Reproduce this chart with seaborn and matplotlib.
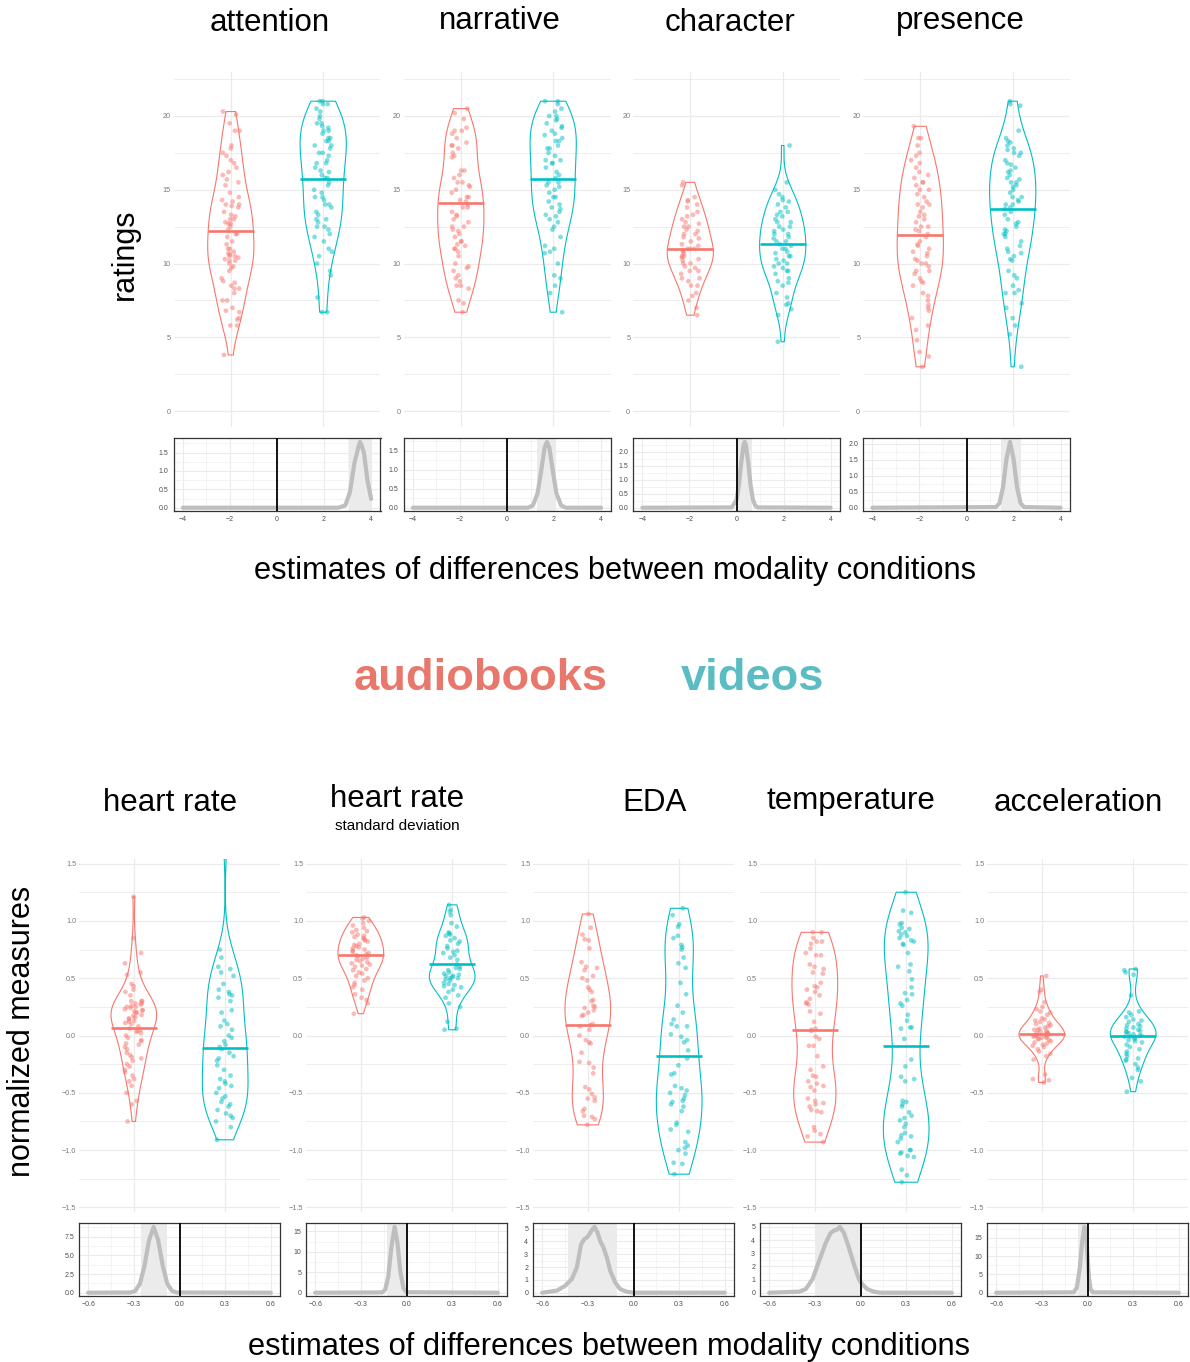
import numpy as np
import pandas as pd
import seaborn as sns
import matplotlib.pyplot as plt
from matplotlib.ticker import AutoMinorLocator, MultipleLocator

sns.set_theme(style="white")
plt.rcParams['font.family'] = ['Liberation Sans', 'DejaVu Sans']

RED = '#F8766D'
BLUE = '#00BFC4'
modalities = ['audiobooks', 'videos']

# ---------------- ratings (top row) ----------------
top_titles = ['attention', 'narrative', 'character', 'presence']

attention_audio = [20.3, 20.1, 19.5, 19.0, 19.0, 18.0, 17.8, 17.5, 17.3, 17.0, 16.8, 16.5, 16.2, 16.0, 15.7,
                   15.5, 15.3, 14.8, 14.5, 14.3, 14.2, 14.0, 14.0, 13.9, 13.8, 13.5, 13.3, 13.2, 13.0, 13.0,
                   12.8, 12.7, 12.7, 12.5, 12.3, 12.0, 12.0, 11.8, 11.5, 11.3, 11.0, 11.0, 10.8, 10.7, 10.6,
                   10.5, 10.5, 10.4, 10.3, 10.2, 10.2, 10.0, 9.8, 9.7, 9.5, 9.0, 8.8, 8.7, 8.5, 8.3, 8.3,
                   8.0, 7.5, 7.5, 7.0, 6.8, 6.7, 6.3, 6.2, 5.8, 5.8, 3.8]
attention_video = [21.0, 21.0, 20.8, 20.8, 20.5, 20.3, 20.0, 19.8, 19.5, 19.5, 19.3, 19.2, 19.0, 19.0, 18.8,
                   18.5, 18.5, 18.3, 18.3, 18.0, 18.0, 17.8, 17.5, 17.5, 17.3, 17.0, 16.8, 16.8, 16.5, 16.3,
                   16.2, 16.0, 15.8, 15.8, 15.5, 15.3, 15.0, 14.8, 14.5, 14.5, 14.3, 14.0, 14.0, 13.8, 13.5,
                   13.3, 13.0, 13.0, 12.8, 12.5, 12.5, 12.3, 12.0, 11.8, 11.5, 11.0, 10.8, 10.5, 10.0, 9.5,
                   9.2, 7.7, 6.7, 6.7]
narrative_audio = [20.5, 20.2, 19.8, 19.2, 19.0, 19.0, 18.8, 18.5, 18.2, 18.0, 18.0, 17.8, 17.5, 17.3, 17.2,
                   16.3, 16.3, 16.0, 15.8, 15.5, 15.5, 15.3, 15.2, 15.0, 14.8, 14.5, 14.5, 14.3, 14.2, 14.0,
                   13.8, 13.8, 13.5, 13.3, 13.2, 13.0, 12.8, 12.5, 12.5, 12.3, 12.2, 12.0, 11.8, 11.5, 11.5,
                   11.3, 11.2, 11.0, 11.0, 10.8, 10.5, 10.0, 9.8, 9.7, 9.5, 9.2, 9.0, 8.8, 8.5, 8.5, 8.3,
                   7.5, 7.3, 6.7]
narrative_video = [21.0, 21.0, 20.8, 20.5, 20.3, 20.0, 20.0, 19.8, 19.7, 19.5, 19.3, 19.2, 19.0, 18.8, 18.7,
                   18.5, 18.3, 18.3, 18.0, 17.8, 17.8, 17.5, 17.3, 17.0, 17.0, 16.8, 16.8, 16.5, 16.2, 16.0,
                   15.8, 15.5, 15.5, 15.3, 15.2, 15.0, 14.8, 14.5, 14.5, 14.2, 14.0, 13.8, 13.7, 13.5, 13.3,
                   13.2, 13.0, 12.8, 12.5, 12.3, 11.8, 11.2, 11.0, 10.8, 10.7, 10.0, 9.2, 9.0, 8.5, 8.0, 6.7]
character_audio = [15.5, 15.3, 14.5, 14.3, 14.2, 14.0, 13.8, 13.5, 13.3, 13.2, 13.0, 12.8, 12.7, 12.5, 12.5,
                   12.3, 12.2, 12.0, 12.0, 11.8, 11.7, 11.5, 11.3, 11.2, 11.0, 11.0, 11.0, 10.9, 10.8, 10.7,
                   10.5, 10.5, 10.4, 10.3, 10.2, 10.0, 10.0, 9.8, 9.7, 9.5, 9.5, 9.3, 9.0, 9.0, 8.8, 8.5,
                   8.5, 8.0, 7.8, 7.5, 7.0, 6.5]
character_video = [18.0, 15.5, 15.0, 14.7, 14.5, 14.3, 14.2, 14.0, 13.8, 13.5, 13.5, 13.3, 13.2, 13.0, 12.8,
                   12.8, 12.5, 12.5, 12.3, 12.2, 12.0, 12.0, 11.8, 11.7, 11.5, 11.5, 11.3, 11.2, 11.0, 11.0,
                   10.8, 10.7, 10.5, 10.5, 10.3, 10.2, 10.0, 10.0, 9.8, 9.7, 9.5, 9.5, 9.3, 9.0, 8.8, 8.7,
                   8.5, 8.0, 7.7, 7.3, 7.2, 6.9, 6.5, 4.7]
presence_audio = [19.3, 18.5, 18.5, 18.0, 17.5, 17.3, 17.0, 16.8, 16.5, 16.2, 16.0, 15.8, 15.5, 15.5, 15.3,
                  15.0, 15.0, 14.7, 14.5, 14.2, 14.0, 14.0, 13.8, 13.5, 13.3, 13.2, 13.0, 12.8, 12.5, 12.5,
                  12.3, 12.2, 12.0, 11.8, 11.5, 11.3, 11.2, 11.0, 10.8, 10.7, 10.5, 10.3, 10.2, 10.0, 10.0,
                  9.8, 9.5, 9.5, 9.3, 9.0, 8.8, 8.7, 8.5, 8.0, 7.8, 7.5, 7.2, 7.0, 6.8, 6.3, 5.8, 5.5, 4.8,
                  4.0, 3.7, 3.0]
presence_video = [21.0, 20.8, 20.7, 19.0, 18.5, 18.3, 18.2, 18.0, 17.8, 17.7, 17.5, 17.5, 17.3, 17.0, 16.8,
                  16.7, 16.5, 16.3, 16.2, 16.0, 15.8, 15.7, 15.5, 15.5, 15.3, 15.2, 15.0, 14.8, 14.5, 14.5,
                  14.3, 14.2, 14.0, 14.0, 13.8, 13.7, 13.5, 13.3, 13.0, 12.8, 12.7, 12.5, 12.3, 12.2, 12.0,
                  12.0, 11.8, 11.5, 11.2, 11.0, 10.8, 10.7, 10.5, 10.3, 10.2, 9.5, 9.2, 9.0, 8.5, 8.2, 8.0,
                  8.0, 7.3, 7.0, 6.3, 5.8, 5.2, 3.0]
top_means = [(12.2, 15.75), (14.1, 15.75), (11.0, 11.3), (11.9, 13.7)]
top_data = [(attention_audio, attention_video), (narrative_audio, narrative_video),
            (character_audio, character_video), (presence_audio, presence_video)]
top_yticks = [0, 5, 10, 15, 20]

# posterior densities of the difference (top row)
top_dens_x = [
    [-4, 2.6, 2.9, 3.1, 3.29, 3.46, 3.53, 3.6, 3.7, 3.84, 4.0],
    [-4, 0.9, 1.1, 1.3, 1.45, 1.6, 1.7, 1.8, 1.95, 2.1, 2.3, 2.5, 4],
    [-4, -0.2, 0.0, 0.1, 0.2, 0.3, 0.35, 0.4, 0.5, 0.6, 0.7, 0.8, 0.9, 4],
    [-4, 1.25, 1.4, 1.55, 1.7, 1.85, 2.0, 2.15, 2.3, 2.45, 4],
]
top_dens_y = [
    [0, 0, 0.06, 0.42, 1.21, 1.65, 1.79, 1.7, 1.48, 0.77, 0.24],
    [0, 0.0, 0.06, 0.38, 0.96, 1.58, 1.73, 1.58, 0.96, 0.38, 0.06, 0.0, 0],
    [0, 0.01, 0.28, 0.8, 1.59, 2.25, 2.35, 2.25, 1.59, 0.8, 0.28, 0.07, 0.01, 0],
    [0, 0.02, 0.14, 0.63, 1.52, 2.05, 1.52, 0.63, 0.14, 0.02, 0],
]
top_ci = [(3.07, 4.0), (1.28, 2.08), (0.04, 0.65), (1.45, 2.3)]
top_dens_yticks = [[0, 0.5, 1.0, 1.5], [0, 0.5, 1.0, 1.5], [0, 0.5, 1.0, 1.5, 2.0], [0, 0.5, 1.0, 1.5, 2.0]]
top_dens_xticks = [-4, -2, 0, 2, 4]

# ---------------- normalized measures (bottom row) ----------------
bottom_titles = ['heart rate', 'heart rate', 'EDA', 'temperature', 'acceleration']

hr_audio = [1.21, 0.85, 0.72, 0.63, 0.55, 0.53, 0.45, 0.43, 0.40, 0.38, 0.35, 0.30, 0.30, 0.30, 0.28, 0.28,
            0.27, 0.26, 0.25, 0.25, 0.24, 0.23, 0.22, 0.22, 0.21, 0.20, 0.20, 0.18, 0.17, 0.16, 0.15, 0.14,
            0.13, 0.12, 0.11, 0.10, 0.08, 0.06, 0.05, 0.04, 0.03, 0.02, 0.00, -0.02, -0.04, -0.05, -0.07,
            -0.08, -0.10, -0.12, -0.15, -0.17, -0.19, -0.20, -0.22, -0.25, -0.27, -0.30, -0.32, -0.35,
            -0.38, -0.40, -0.44, -0.50, -0.57, -0.60, -0.75]
hr_video = [1.7, 0.75, 0.68, 0.60, 0.58, 0.55, 0.52, 0.45, 0.40, 0.38, 0.36, 0.35, 0.33, 0.30, 0.22, 0.20,
            0.13, 0.10, 0.08, 0.05, 0.00, -0.02, -0.05, -0.08, -0.10, -0.12, -0.15, -0.18, -0.20, -0.22,
            -0.26, -0.30, -0.35, -0.38, -0.40, -0.42, -0.44, -0.46, -0.50, -0.53, -0.55, -0.58, -0.60,
            -0.62, -0.65, -0.68, -0.70, -0.72, -0.75, -0.80, -0.91]
hrsd_audio = [1.03, 1.02, 1.00, 0.98, 0.96, 0.94, 0.92, 0.91, 0.90, 0.88, 0.87, 0.86, 0.85, 0.84, 0.83, 0.82,
              0.80, 0.79, 0.78, 0.77, 0.76, 0.75, 0.74, 0.73, 0.72, 0.71, 0.70, 0.69, 0.68, 0.67, 0.66, 0.65,
              0.64, 0.63, 0.62, 0.61, 0.60, 0.58, 0.57, 0.55, 0.54, 0.52, 0.50, 0.48, 0.46, 0.44, 0.42,
              0.40, 0.36, 0.33, 0.31, 0.28, 0.19]
hrsd_video = [1.14, 1.10, 1.08, 1.05, 0.98, 0.95, 0.90, 0.89, 0.88, 0.87, 0.85, 0.83, 0.82, 0.80, 0.78, 0.76,
              0.74, 0.73, 0.72, 0.70, 0.68, 0.66, 0.62, 0.60, 0.59, 0.58, 0.57, 0.55, 0.54, 0.53, 0.52, 0.52,
              0.51, 0.50, 0.50, 0.49, 0.48, 0.46, 0.45, 0.44, 0.43, 0.42, 0.40, 0.38, 0.35, 0.33, 0.28,
              0.25, 0.12, 0.06, 0.05]
eda_audio = [1.06, 0.94, 0.88, 0.84, 0.83, 0.76, 0.64, 0.60, 0.59, 0.57, 0.52, 0.50, 0.48, 0.42, 0.40, 0.38,
             0.31, 0.30, 0.26, 0.25, 0.24, 0.22, 0.20, 0.18, 0.17, 0.10, 0.09, 0.08, 0.05, 0.00, -0.04, -0.06,
             -0.07, -0.15, -0.23, -0.24, -0.28, -0.33, -0.45, -0.47, -0.51, -0.54, -0.55, -0.57, -0.64,
             -0.66, -0.70, -0.71, -0.73, -0.78]
eda_video = [1.11, 1.05, 0.97, 0.95, 0.87, 0.85, 0.79, 0.77, 0.75, 0.68, 0.63, 0.59, 0.46, 0.36, 0.26, 0.20,
             0.14, 0.10, 0.08, 0.08, 0.01, -0.01, -0.04, -0.06, -0.13, -0.20, -0.26, -0.33, -0.34, -0.44,
             -0.46, -0.48, -0.50, -0.52, -0.55, -0.57, -0.58, -0.60, -0.62, -0.66, -0.76, -0.78, -0.82,
             -0.84, -0.93, -0.96, -0.98, -1.00, -1.03, -1.11, -1.12, -1.21]
temp_audio = [0.90, 0.90, 0.85, 0.82, 0.82, 0.80, 0.76, 0.72, 0.70, 0.70, 0.62, 0.60, 0.58, 0.55, 0.54, 0.46,
              0.43, 0.42, 0.40, 0.38, 0.35, 0.32, 0.29, 0.28, 0.27, 0.21, 0.19, 0.12, 0.06, 0.05, 0.04, -0.01,
              -0.03, -0.09, -0.09, -0.18, -0.27, -0.30, -0.35, -0.36, -0.40, -0.42, -0.44, -0.45, -0.48,
              -0.55, -0.57, -0.59, -0.60, -0.62, -0.65, -0.66, -0.67, -0.80, -0.83, -0.86, -0.88, -0.93]
temp_video = [1.25, 1.09, 1.07, 0.98, 0.97, 0.94, 0.93, 0.91, 0.90, 0.88, 0.87, 0.85, 0.83, 0.82, 0.80, 0.79,
              0.72, 0.62, 0.60, 0.56, 0.49, 0.42, 0.37, 0.36, 0.31, 0.28, 0.26, 0.18, 0.13, 0.07, 0.07, 0.06,
              -0.03, -0.21, -0.27, -0.36, -0.38, -0.40, -0.57, -0.58, -0.60, -0.62, -0.67, -0.70, -0.72,
              -0.74, -0.77, -0.80, -0.85, -0.87, -0.88, -0.90, -0.93, -1.00, -1.00, -1.02, -1.03, -1.05,
              -1.06, -1.17, -1.22, -1.28]
acc_audio = [0.52, 0.40, 0.38, 0.29, 0.25, 0.23, 0.21, 0.20, 0.18, 0.15, 0.14, 0.13, 0.12, 0.11, 0.10, 0.09,
             0.08, 0.07, 0.06, 0.05, 0.05, 0.04, 0.03, 0.03, 0.02, 0.02, 0.01, 0.01, 0.00, 0.00, 0.00, -0.01,
             -0.01, -0.02, -0.02, -0.03, -0.03, -0.04, -0.05, -0.06, -0.07, -0.08, -0.09, -0.10, -0.12,
             -0.14, -0.16, -0.18, -0.21, -0.34, -0.38, -0.39, -0.41]
acc_video = [0.58, 0.57, 0.55, 0.53, 0.35, 0.21, 0.20, 0.18, 0.16, 0.14, 0.13, 0.12, 0.10, 0.09, 0.08, 0.07,
             0.06, 0.05, 0.04, 0.03, 0.03, 0.02, 0.01, 0.00, 0.00, -0.01, -0.01, -0.02, -0.03, -0.04, -0.05,
             -0.06, -0.08, -0.10, -0.12, -0.14, -0.16, -0.18, -0.20, -0.21, -0.22, -0.25, -0.28, -0.30,
             -0.37, -0.40, -0.49]
bottom_means = [(0.065, -0.105), (0.70, 0.625), (0.09, -0.18), (0.05, -0.09), (0.01, -0.005)]
bottom_data = [(hr_audio, hr_video), (hrsd_audio, hrsd_video), (eda_audio, eda_video),
               (temp_audio, temp_video), (acc_audio, acc_video)]
bottom_yticks = [-1.5, -1.0, -0.5, 0.0, 0.5, 1.0, 1.5]

bottom_dens_x = [
    [-0.6, -0.32, -0.29, -0.26, -0.23, -0.2, -0.17, -0.14, -0.11, -0.08, -0.05, -0.02, 0.6],
    [-0.6, -0.16, -0.14, -0.12, -0.10, -0.078, -0.06, -0.04, -0.02, 0.0, 0.6],
    [-0.6, -0.503, -0.449, -0.405, -0.372, -0.344, -0.324, -0.302, -0.274, -0.256, -0.236, -0.219,
     -0.197, -0.175, -0.153, -0.12, -0.088, -0.044, 0.0, 0.6],
    [-0.6, -0.402, -0.359, -0.315, -0.272, -0.228, -0.196, -0.17, -0.152, -0.135, -0.109, -0.076,
     -0.043, -0.011, 0.011, 0.043, 0.087, 0.13, 0.6],
    [-0.6, -0.09, -0.07, -0.05, -0.035, -0.02, -0.01, 0.0, 0.01, 0.02, 0.035, 0.6],
]
bottom_dens_y = [
    [0, 0.03, 0.25, 1.19, 3.6, 7.0, 8.8, 7.0, 3.6, 1.19, 0.25, 0.03, 0],
    [0, 0.07, 0.74, 3.9, 10.9, 16.1, 12.4, 5.1, 1.09, 0.12, 0],
    [0, 0.16, 0.54, 1.06, 1.97, 3.78, 4.17, 4.35, 4.87, 5.13, 4.69, 4.04, 3.52, 2.75, 1.71, 0.8, 0.28,
     0.08, 0.0, 0],
    [0, 0.08, 0.28, 1.03, 2.41, 3.79, 4.55, 4.75, 4.8, 5.0, 4.55, 3.42, 2.16, 1.03, 0.65, 0.28, 0.08,
     0.0, 0],
    [0, 0.1, 1.4, 7.0, 14.0, 18.0, 16.5, 10.0, 4.0, 1.0, 0.1, 0],
]
bottom_ci = [(-0.25, -0.08), (-0.13, 0.0), (-0.43, -0.11), (-0.29, 0.0), (-0.063, 0.0)]
bottom_dens_yticks = [[0, 2.5, 5.0, 7.5], [0, 5, 10, 15], [0, 1, 2, 3, 4, 5], [0, 1, 2, 3, 4, 5], [0, 5, 10, 15]]
bottom_dens_ylabels = [['0.0', '2.5', '5.0', '7.5'], ['0', '5', '10', '15'], ['0', '1', '2', '3', '4', '5'],
                       ['0', '1', '2', '3', '4', '5'], ['0', '5', '10', '15']]
bottom_dens_xticks = [-0.6, -0.3, 0.0, 0.3, 0.6]

# ---------------- layout ----------------
W, H = 1190, 1362
fig = plt.figure(figsize=(W / 100, H / 100), dpi=100)
np.random.seed(7)


def box(x0, y0, x1, y1):
    return [x0 / W, 1 - y1 / H, (x1 - x0) / W, (y1 - y0) / H]


def minus(v, fmt):
    return (fmt % v).replace('-', '\u2212')


def violin_panel(ax, audio, video, means, ylim, yticks, fmt):
    df = pd.DataFrame({'value': list(audio) + list(video),
                       'modality': ['audiobooks'] * len(audio) + ['videos'] * len(video)})
    pal = {'audiobooks': RED, 'videos': BLUE}
    ax.set_axisbelow(True)
    sns.violinplot(data=df, x='modality', y='value', hue='modality', palette=pal, fill=False,
                   cut=0, inner=None, width=0.5, density_norm='area', bw_adjust=0.85,
                   linewidth=0.8, legend=False, ax=ax)
    sns.stripplot(data=df, x='modality', y='value', hue='modality', palette=pal, jitter=0.1,
                  size=3.4, alpha=0.5, linewidth=0, legend=False, ax=ax)
    xs = np.arange(len(modalities))
    ax.hlines(means, xs - 0.25, xs + 0.25, colors=[RED, BLUE], lw=1.9, zorder=5)
    ax.set_xlim(-0.62, 1.62)
    ax.set_ylim(*ylim)
    ax.set_xticks(xs)
    ax.set_xticklabels([])
    ax.set_yticks(yticks)
    ax.set_yticklabels([minus(v, fmt) for v in yticks])
    ax.yaxis.set_minor_locator(AutoMinorLocator(2))
    ax.grid(True, which='major', color='#EBEBEB', lw=0.9)
    ax.grid(True, which='minor', axis='y', color='#EBEBEB', lw=0.6)
    ax.tick_params(axis='both', which='both', length=0, labelsize=5.2, labelcolor='#7A7A7A', pad=2)
    for s in ax.spines.values():
        s.set_visible(False)
    ax.set_xlabel('')
    ax.set_ylabel('')


def density_panel(ax, xs, ys, ci, xticks, xlim, yticks, ylabels, xminor):
    ymax = max(ys)
    ax.set_axisbelow(True)
    ax.axvspan(ci[0], ci[1], color='#EBEBEB', lw=0, zorder=0.8)
    sns.lineplot(x=xs, y=ys, color='#BEBEBE', lw=3.0, ax=ax, zorder=2)
    ax.axvline(0, color='black', lw=1.3, zorder=3)
    ax.set_xlim(*xlim)
    ax.set_ylim(-0.05 * ymax, 1.06 * ymax)
    ax.set_xticks(xticks)
    ax.set_xticklabels([minus(v, '%g' if abs(xticks[-1]) > 1 else '%.1f') for v in xticks])
    ax.set_yticks(yticks)
    ax.set_yticklabels(ylabels)
    ax.xaxis.set_minor_locator(MultipleLocator(xminor))
    ax.yaxis.set_minor_locator(AutoMinorLocator(2))
    ax.grid(True, which='major', color='#EBEBEB', lw=0.8)
    ax.grid(True, which='minor', color='#F2F2F2', lw=0.6)
    ax.tick_params(axis='both', which='major', length=2, width=0.5, color='#333333',
                   labelsize=5, labelcolor='#4D4D4D', pad=1.5)
    ax.tick_params(axis='both', which='minor', length=0)
    for s in ax.spines.values():
        s.set_color('#333333')
        s.set_linewidth(0.9)
    ax.set_xlabel('')
    ax.set_ylabel('')


top_lefts = [173.5, 403.5, 633, 863]
top_w = 207
for i in range(4):
    x0 = top_lefts[i]
    ax = fig.add_axes(box(x0, 72, x0 + top_w, 427))
    violin_panel(ax, top_data[i][0], top_data[i][1], top_means[i], (-1.08, 22.98), top_yticks, '%g')
    axd = fig.add_axes(box(x0, 438, x0 + top_w, 511))
    density_panel(axd, top_dens_x[i], top_dens_y[i], top_ci[i], top_dens_xticks, (-4.4, 4.4),
                  top_dens_yticks[i], ['%.1f' % v for v in top_dens_yticks[i]], 1)

bottom_lefts = [79, 306, 533, 760, 987]
bottom_w = 201
for i in range(5):
    x0 = bottom_lefts[i]
    ax = fig.add_axes(box(x0, 859, x0 + bottom_w, 1212))
    violin_panel(ax, bottom_data[i][0], bottom_data[i][1], bottom_means[i], (-1.54, 1.54),
                 bottom_yticks, '%.1f')
    ax.set_xlim(-0.6, 1.6)
    axd = fig.add_axes(box(x0, 1223, x0 + bottom_w, 1296))
    density_panel(axd, bottom_dens_x[i], bottom_dens_y[i], bottom_ci[i], bottom_dens_xticks,
                  (-0.66, 0.66), bottom_dens_yticks[i], bottom_dens_ylabels[i], 0.15)


# ---------------- texts ----------------
def ftext(x, y, s, **kw):
    kw.setdefault('color', 'black')
    fig.text(x / W, 1 - y / H, s, ha='center', va='center', **kw)


for x, y, s in zip([270, 500, 730, 960], [23, 21, 23, 21], top_titles):
    ftext(x, y, s, fontsize=22.5)
for x, y, s in zip([170, 397, 655, 851, 1078], [803, 799, 803, 801, 803], bottom_titles):
    ftext(x, y, s, fontsize=22.5)
ftext(397, 826, 'standard deviation', fontsize=11)

ftext(125, 254, 'ratings', fontsize=22, rotation=90)
ftext(22, 1031, 'normalized measures', fontsize=22, rotation=90)
ftext(615, 571, 'estimates of differences between modality conditions', fontsize=22.2)
ftext(609, 1347, 'estimates of differences between modality conditions', fontsize=22.2)

ftext(481, 678, 'audiobooks', fontsize=32.6, fontweight='bold', color='#E8776C')
ftext(753, 678, 'videos', fontsize=32.6, fontweight='bold', color='#5BBDC3')

fig.savefig('out.png', dpi=100, facecolor='white')
